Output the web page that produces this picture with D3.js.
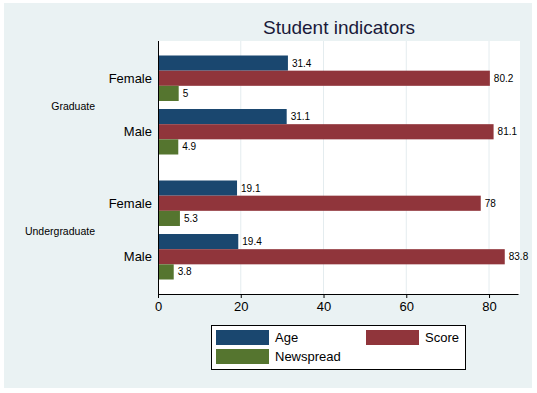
<!DOCTYPE html>
<html>
<head>
<meta charset="utf-8">
<script src="https://cdn.jsdelivr.net/npm/d3@7/dist/d3.min.js"></script>
<style>
  html, body { margin: 0; padding: 0; background: #ffffff; }
  svg { display: block; font-family: "Liberation Sans", Arial, sans-serif; }
</style>
</head>
<body>
<svg id="chart" width="537" height="393"></svg>
<script>
// ---- data ----
const groups = ["Graduate", "Undergraduate"];
const sexes = ["Female", "Male"];
const seriesNames = ["Age", "Score", "Newspread"];
const ageValues = [31.4, 31.1, 19.1, 19.4];        // Grad F, Grad M, Undergrad F, Undergrad M
const scoreValues = [80.2, 81.1, 78, 83.8];
const newspreadValues = [5, 4.9, 5.3, 3.8];
const xTicks = [0, 20, 40, 60, 80];
const seriesColors = ["#1a476f", "#90353b", "#55752f"];

const seriesValues = [ageValues, scoreValues, newspreadValues];
const rows = [];
groups.forEach((g, gi) => sexes.forEach((s, si) => {
  const idx = gi * sexes.length + si;
  rows.push({ group: g, sex: s, values: seriesNames.map((n, k) => ({ name: n, value: seriesValues[k][idx], color: seriesColors[k] })) });
}));

const svg = d3.select("#chart");

// background
svg.append("rect").attr("x", 4).attr("y", 3).attr("width", 528).attr("height", 385).attr("fill", "#eaf2f3");

const plot = { left: 158, right: 520, top: 41, bottom: 294 };
svg.append("rect").attr("x", plot.left).attr("y", plot.top)
  .attr("width", plot.right - plot.left).attr("height", plot.bottom - plot.top).attr("fill", "#ffffff");

const x = d3.scaleLinear().domain([0, 87]).range([plot.left, 518]);

const yOuter = d3.scaleBand().domain(groups).range([plot.top, plot.bottom]).paddingInner(0.208).paddingOuter(0.116);
const yInner = d3.scaleBand().domain(sexes).range([0, yOuter.bandwidth()]).paddingInner(0.15).paddingOuter(0);
const ySeries = d3.scaleBand().domain(seriesNames).range([0, yInner.bandwidth()]).padding(0);

// grid lines
svg.append("g").selectAll("line").data(xTicks.filter(t => t > 0)).join("line")
  .attr("x1", d => x(d)).attr("x2", d => x(d))
  .attr("y1", plot.top).attr("y2", plot.bottom)
  .attr("stroke", "#e4ecef").attr("stroke-width", 1);

// bars
const rowG = svg.append("g").selectAll("g").data(rows).join("g")
  .attr("transform", d => `translate(0,${yOuter(d.group) + yInner(d.sex)})`);

rowG.selectAll("rect").data(d => d.values).join("rect")
  .attr("x", x(0)).attr("y", d => ySeries(d.name))
  .attr("width", d => x(d.value) - x(0)).attr("height", ySeries.bandwidth())
  .attr("fill", d => d.color);

rowG.selectAll("text").data(d => d.values).join("text")
  .attr("x", d => x(d.value) + 4).attr("y", d => ySeries(d.name) + ySeries.bandwidth() / 2)
  .attr("dy", "0.35em").attr("font-size", "10px").attr("fill", "#000")
  .text(d => String(d.value));

// sex labels
svg.append("g").selectAll("text").data(rows).join("text")
  .attr("x", 152).attr("y", d => yOuter(d.group) + yInner(d.sex) + yInner.bandwidth() / 2)
  .attr("dy", "0.35em").attr("text-anchor", "end").attr("font-size", "13px").attr("fill", "#000")
  .text(d => d.sex);

// group labels
svg.append("g").selectAll("text").data(groups).join("text")
  .attr("x", 95).attr("y", d => yOuter(d) + yOuter.bandwidth() / 2 + 1)
  .attr("dy", "0.35em").attr("text-anchor", "end").attr("font-size", "10.5px").attr("fill", "#000")
  .text(d => d);

// y axis line
svg.append("line").attr("x1", plot.left + 0.5).attr("x2", plot.left + 0.5)
  .attr("y1", plot.top).attr("y2", plot.bottom).attr("stroke", "#000");

// x axis
const xAxis = d3.axisBottom(x).tickValues(xTicks).tickSize(4).tickSizeOuter(0).tickPadding(4);
const gx = svg.append("g").attr("transform", `translate(0,${plot.bottom})`).call(xAxis);
gx.select(".domain").attr("stroke", "#000");
gx.selectAll(".tick line").attr("stroke", "#000");
gx.selectAll(".tick text").attr("font-size", "13px").attr("fill", "#000")
  .attr("font-family", "'Liberation Sans', Arial, sans-serif");

// title
svg.append("text").attr("x", 339).attr("y", 34).attr("text-anchor", "middle")
  .attr("font-size", "19px").attr("fill", "#1a1a3a").text("Student indicators");

// legend
const lg = svg.append("g");
lg.append("rect").attr("x", 211.5).attr("y", 325.5).attr("width", 254).attr("height", 44)
  .attr("fill", "#ffffff").attr("stroke", "#000").attr("stroke-width", 1);
const legendPos = [
  { key: 216, text: 275, y: 330 },
  { key: 366, text: 425, y: 330 },
  { key: 216, text: 275, y: 349 }
];
seriesNames.forEach((n, i) => {
  const p = legendPos[i];
  lg.append("rect").attr("x", p.key).attr("y", p.y).attr("width", 53).attr("height", 15).attr("fill", seriesColors[i]);
  lg.append("text").attr("x", p.text).attr("y", p.y + 7.5).attr("dy", "0.35em")
    .attr("font-size", "13px").attr("fill", "#000").text(n);
});
</script>
</body>
</html>
